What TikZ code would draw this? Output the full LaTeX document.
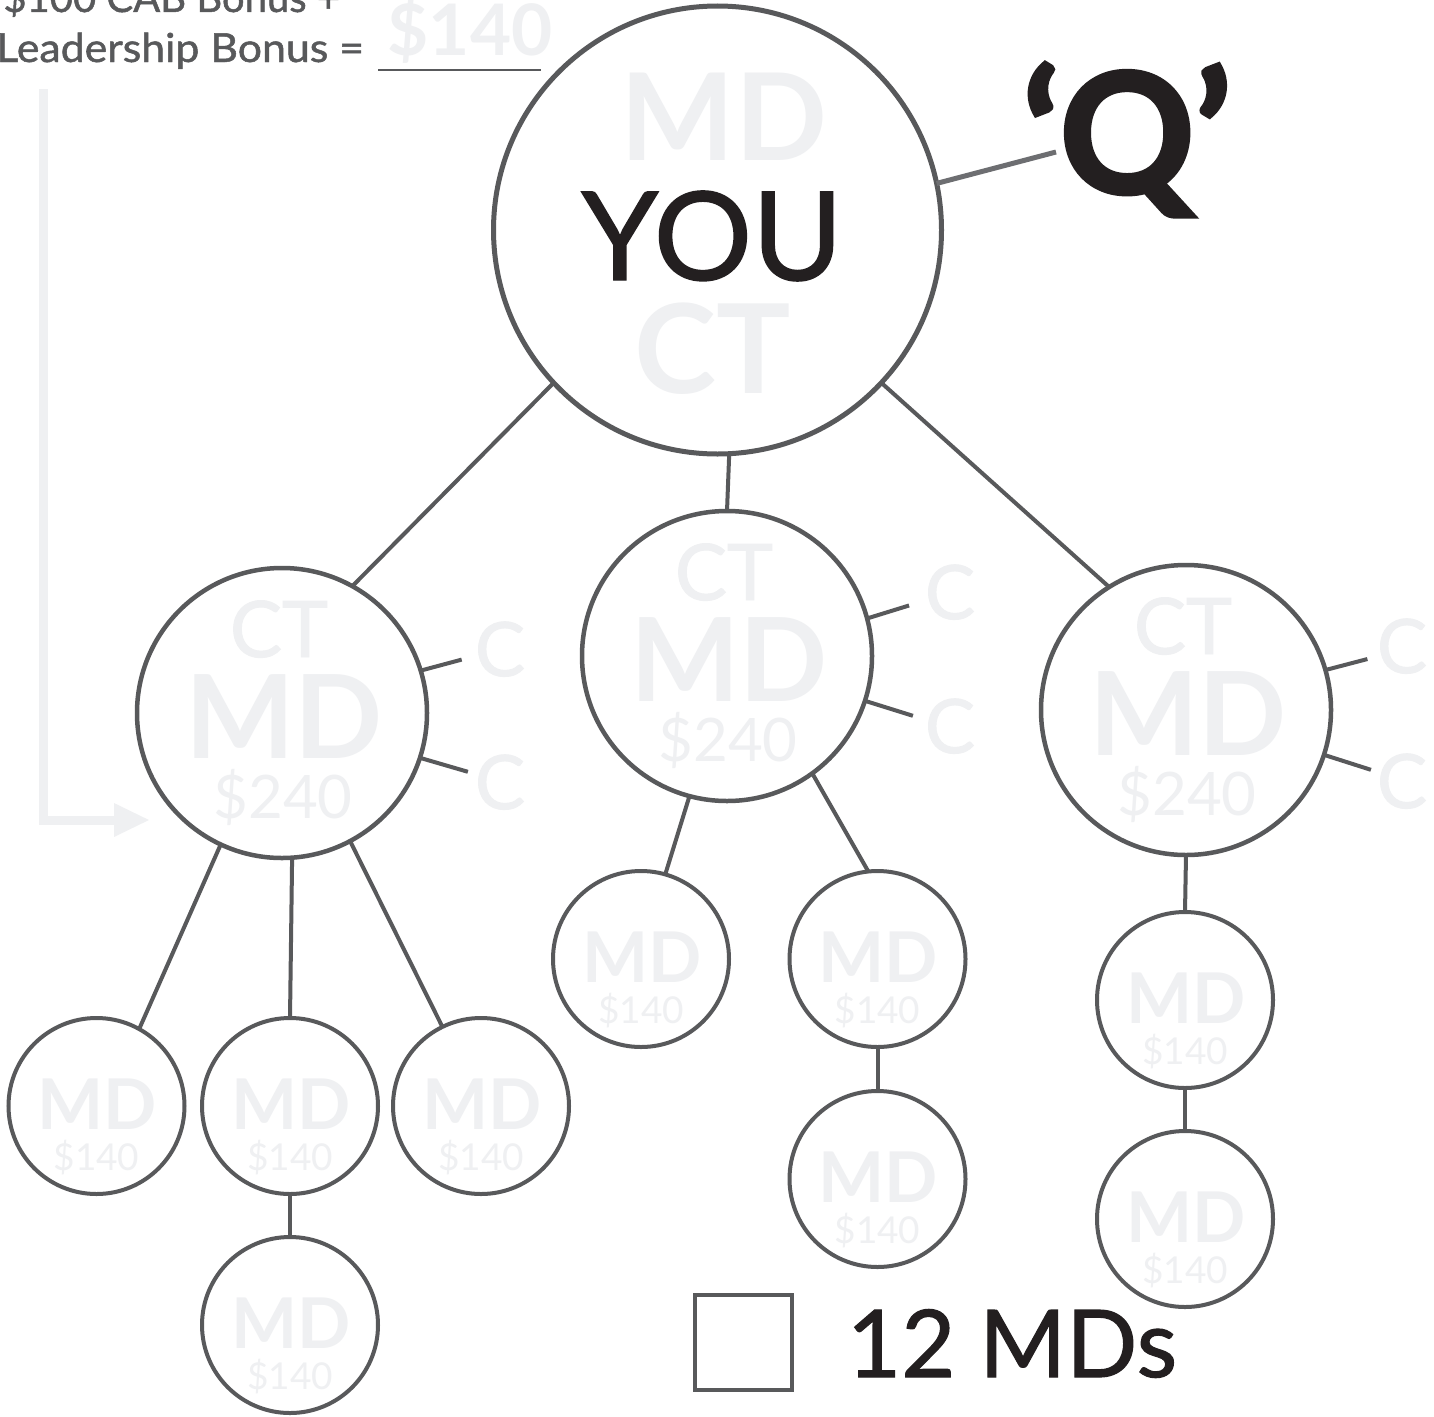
\documentclass[tikz,border=0pt]{standalone}
\usepackage{fontspec}
\setmainfont{Lato}
\newfontfamily\medfont{Lato}[FakeBold=1.2]
\newfontfamily\qfont{Lato}[BoldFeatures={FakeBold=2.5}]
\usetikzlibrary{arrows.meta}
\definecolor{ink}{HTML}{231F20}
\definecolor{strokec}{HTML}{58595B}
\definecolor{faint}{HTML}{EFF0F2}
\definecolor{tickc}{HTML}{6D6E71}
\newcommand\fs[1]{\fontsize{#1}{#1}\selectfont}
\tikzset{
  txt/.style={anchor=base, inner sep=0pt, outer sep=0pt},
  topcirc/.style={draw=strokec, line width=5pt, circle, inner sep=0pt, outer sep=0pt, minimum size=448pt},
  bigcirc/.style={draw=strokec, line width=4.5pt, circle, inner sep=0pt, outer sep=0pt, minimum size=290pt},
  smallcirc/.style={draw=strokec, line width=4pt, circle, inner sep=0pt, outer sep=0pt, minimum size=176pt},
  conn/.style={draw=strokec, line width=4pt},
  qtick/.style={draw=tickc, line width=5pt},
  ctlbl/.style={txt, text=faint, font=\medfont\fs{78}},
  mdlbl/.style={txt, text=faint, font=\bfseries\fs{116}},
  mnylbl/.style={txt, text=faint, font=\fs{60}},
  smmd/.style={txt, text=faint, font=\bfseries\fs{70}},
  smmny/.style={txt, text=faint, font=\fs{37}},
  clbl/.style={txt, text=faint, font=\medfont\fs{75}},
  lefttxt/.style={txt, text=strokec, font=\medfont\fs{40}},
}
\newcommand\mdbig[2]{%
  \node[bigcirc] (#1) at (#2) {};
  \node[ctlbl] (#1-ct) at ([shift={(-3,-56)}]#1.center) {CT};
  \node[mdlbl] (#1-md) at ([shift={(2,45)}]#1.center) {MD};
  \node[mnylbl] (#1-m) at ([shift={(1,105)}]#1.center) {\$240};
}
\newcommand\mdsmall[2]{%
  \node[smallcirc] (#1) at (#2) {};
  \node[smmd] (#1-md) at ([shift={(1,23)}]#1.center) {MD};
  \node[smmny] (#1-m) at ([shift={(0,64)}]#1.center) {\$140};
}
\begin{document}
\begin{tikzpicture}[x=1pt,y=-1pt]
\clip (0,0) rectangle (1434,1416);
\fill[white] (0,0) rectangle (1434,1416);

% light arrow on the left
\coordinate (arrtop) at (43,89);
\coordinate (arrtip) at (150,820);
\draw[faint, line width=9pt, line join=miter, -{Triangle[length=36pt,width=31pt]}] (arrtop) |- (arrtip);

% bonus text
\node[lefttxt, anchor=base east] (l1) at (340,12) {\$100 CAB Bonus +};
\node[lefttxt, anchor=base east, xscale=1.07, transform shape] (l2) at (364,62) {Leadership Bonus =};
\node[txt, text=faint, font=\bfseries\fs{71}] (amt) at (470,55) {\$140};
\draw[strokec, line width=2pt] (378,70) -- (541,70);

% top circle
\node[topcirc] (top) at (717.5,230) {};
\node[txt, text=faint, font=\bfseries\fs{121}] (top-md) at (724,160) {MD};
\node[txt, text=ink, font=\medfont\fs{123}] (top-you) at (712,280) {YOU};
\node[txt, text=faint, font=\bfseries\fs{124}] (top-ct) at (713,393) {CT};

% Q
\node[txt, text=ink, font=\qfont\bfseries\fs{167}] (q) at (1127,193) {‘Q’};
\coordinate (qend) at (1056,152);
\draw[qtick] (top.12.3) -- (qend);

% second level
\mdbig{lc}{282,713}
\mdbig{mc}{727,656}
\mdbig{rc}{1186,710}

\draw[conn] (top.223.6) -- (lc.61);
\draw[conn] (top.-87.3) -- (mc.90);
\draw[conn] (top.-43) -- (rc.122.6);

% C ticks
\draw[conn] (lc.17) -- ++(41,-11);
\draw[conn] (lc.-18.3) -- ++(48,14);
\node[clbl] (lc-c1) at (500,676) {C};
\node[clbl] (lc-c2) at (500,809) {C};
\draw[conn] (mc.15.4) -- ++(42,-13);
\draw[conn] (mc.-18) -- ++(48,15);
\node[clbl] (mc-c1) at (950,619) {C};
\node[clbl] (mc-c2) at (950,753) {C};
\draw[conn] (rc.16.8) -- ++(42,-11);
\draw[conn] (rc.-18.7) -- ++(47,15);
\node[clbl] (rc-c1) at (1402,673) {C};
\node[clbl] (rc-c2) at (1402,808) {C};

% third level
\mdsmall{a1}{96.5,1106}
\mdsmall{a2}{290,1106}
\mdsmall{a3}{481,1106}
\mdsmall{a4}{290,1325}
\mdsmall{b1}{641,959}
\mdsmall{b2}{877.5,959}
\mdsmall{b3}{877.5,1179}
\mdsmall{c1}{1185,1000}
\mdsmall{c2}{1185,1219}

\draw[conn] (lc.-115.9) -- (a1.61.4);
\draw[conn] (lc.-86.5) -- (a2.90);
\draw[conn] (lc.-62.7) -- (a3.116.6);
\draw[conn] (a2.-90) -- (a4.90);
\draw[conn] (mc.-105.9) -- (b1.74.4);
\draw[conn] (mc.-54.8) -- (b2.96.2);
\draw[conn] (b2.-90) -- (b3.90);
\draw[conn] (rc.-90) -- (c1.90);
\draw[conn] (c1.-90) -- (c2.90);

% checkbox
\node[draw=strokec, line width=4pt, minimum width=97pt, minimum height=95pt, inner sep=0pt, outer sep=0pt] (box) at (743.5,1342.5) {};
\node[txt, anchor=base west, text=ink, font=\medfont\fs{93.5}] (count) at (847,1377) {12 MDs};
\end{tikzpicture}
\end{document}
